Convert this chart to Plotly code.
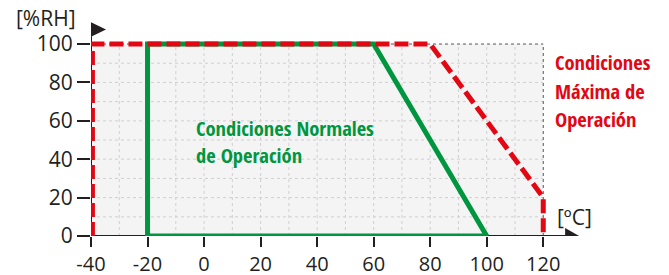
import plotly.graph_objects as go

# ---- data ----
x_ticks = [-40, -20, 0, 20, 40, 60, 80, 100, 120]
y_ticks = [0, 20, 40, 60, 80, 100]
grid_x = [-30, -20, -10, 0, 10, 20, 30, 40, 50, 60, 70, 80, 90, 100, 110]
grid_y = [10, 20, 30, 40, 50, 60, 70, 80, 90]

normal_temp = [-20, -20, 60, 100, -20]
normal_rh = [0, 100, 100, 0, 0]

max_temp = [-39.5, -39.5, 80, 120, 120]
max_rh = [0, 100, 100, 20, 0]

RED = "#e30613"
GREEN = "#009640"
INK = "#231f20"
TICKFONT = "Open Sans"
LABELFONT = "Open Sans Condensed"

X_MIN, X_MAX = -40, 133
Y_MIN, Y_MAX = 0, 112

fig = go.Figure()

fig.add_trace(go.Scatter(x=normal_temp, y=normal_rh, mode="lines",
                         line=dict(color=GREEN, width=5), hoverinfo="skip",
                         showlegend=False, cliponaxis=False))
fig.add_trace(go.Scatter(x=max_temp, y=max_rh, mode="lines",
                         line=dict(color=RED, width=5, dash="14px,5px"),
                         hoverinfo="skip", showlegend=False, cliponaxis=False))

shapes = []
# background region
shapes.append(dict(type="rect", xref="x", yref="y", x0=-40, x1=120, y0=0, y1=100,
                   fillcolor="#f4f4f4", line=dict(width=0), layer="below"))
for gx in grid_x:
    shapes.append(dict(type="line", xref="x", yref="y", x0=gx, x1=gx, y0=0, y1=100,
                       line=dict(color="#d0d0d0", width=1, dash="3px,3px"), layer="below"))
for gy in grid_y:
    shapes.append(dict(type="line", xref="x", yref="y", x0=-40, x1=120, y0=gy, y1=gy,
                       line=dict(color="#d0d0d0", width=1, dash="3px,3px"), layer="below"))
# dotted border top/right
shapes.append(dict(type="line", xref="x", yref="y", x0=-40, x1=120, y0=100, y1=100,
                   line=dict(color="#555555", width=1, dash="dot"), layer="below"))
shapes.append(dict(type="line", xref="x", yref="y", x0=120, x1=120, y0=0, y1=100,
                   line=dict(color="#555555", width=1, dash="dot"), layer="below"))
# axis lines
shapes.append(dict(type="line", xref="x", yref="y", x0=-40, x1=128, y0=0, y1=0,
                   line=dict(color=INK, width=2), layer="below"))
shapes.append(dict(type="line", xref="x", yref="y", x0=-40, x1=-40, y0=0, y1=104,
                   line=dict(color=INK, width=2), layer="below"))
# arrowheads
shapes.append(dict(type="path", xref="x", yref="y", xsizemode="pixel", ysizemode="pixel",
                   xanchor=132.7, yanchor=0, path="M-14,-8 L0,0 L-14,8 Z",
                   fillcolor=INK, line=dict(width=0)))
shapes.append(dict(type="path", xref="x", yref="y", xsizemode="pixel", ysizemode="pixel",
                   xanchor=-40, yanchor=107.6, path="M-0.5,-7.5 L15,0 L-0.5,7.5 Z",
                   fillcolor=INK, line=dict(width=0)))

annotations = [
    dict(text="[%RH]", x=-40, y=(228 - 10) / 215, xref="x", yref="paper", xanchor="right", yanchor="middle",
         xshift=-13, showarrow=False, font=dict(family=TICKFONT, size=21, color=INK)),
    dict(text="[ºC]", x=131, y=9.9, xref="x", yref="y", xanchor="center", yanchor="middle",
         showarrow=False, font=dict(family=TICKFONT, size=21, color=INK)),
    dict(text="<b>Condiciones Normales</b>", x=-3.5, y=56.2, xref="x", yref="y",
         xanchor="left", yanchor="middle", showarrow=False,
         font=dict(family=LABELFONT, size=20.5, color=GREEN)),
    dict(text="<b>de Operación</b>", x=-3.5, y=42.2, xref="x", yref="y",
         xanchor="left", yanchor="middle", showarrow=False,
         font=dict(family=LABELFONT, size=20.5, color=GREEN)),
    dict(text="<b>Condiciones</b>", x=123.5, y=90.6, xref="x", yref="y",
         xanchor="left", yanchor="middle", showarrow=False,
         font=dict(family=LABELFONT, size=20.5, color=RED)),
    dict(text="<b>Máxima de</b>", x=123.5, y=75.5, xref="x", yref="y",
         xanchor="left", yanchor="middle", showarrow=False,
         font=dict(family=LABELFONT, size=20.5, color=RED)),
    dict(text="<b>Operación</b>", x=123.5, y=60.9, xref="x", yref="y",
         xanchor="left", yanchor="middle", showarrow=False,
         font=dict(family=LABELFONT, size=20.5, color=RED)),
]

# the page body adds an 8px offset, so the figure is 8px smaller and margins shifted
fig.update_layout(
    width=661, height=267,
    margin=dict(l=83, r=89, t=13, b=39, autoexpand=False),
    paper_bgcolor="white", plot_bgcolor="white",
    shapes=shapes, annotations=annotations,
    xaxis=dict(range=[X_MIN, X_MAX], tickvals=x_ticks, ticktext=[str(v) for v in x_ticks],
               showgrid=False, zeroline=False, showline=False, automargin=False,
               ticks="outside", ticklen=10, tickwidth=2, tickcolor=INK,
               tickfont=dict(family=TICKFONT, size=20, color=INK), fixedrange=True),
    yaxis=dict(range=[Y_MIN, Y_MAX], tickvals=y_ticks, ticktext=[str(v) for v in y_ticks],
               showgrid=False, zeroline=False, showline=False, automargin=False,
               ticks="outside", ticklen=13, tickwidth=2, tickcolor=INK,
               tickfont=dict(family=TICKFONT, size=21, color=INK), fixedrange=True),
)

fig.write_html("out.html")
